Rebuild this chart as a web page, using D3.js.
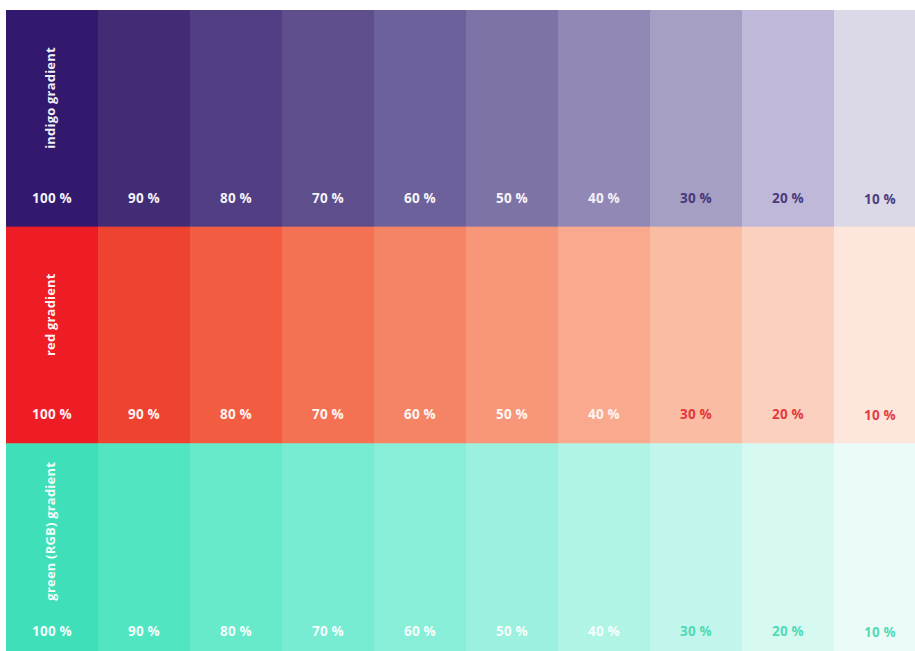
<!DOCTYPE html>
<html>
<head>
<meta charset="utf-8">
<script src="https://cdn.jsdelivr.net/npm/d3@7"></script>
<style>
  html, body { margin: 0; padding: 0; background: #ffffff; overflow: hidden; }
  svg { display: block; }
</style>
</head>
<body>
<svg id="chart" width="915" height="651"></svg>
<script>
// ---- data ----
const percents = [100, 90, 80, 70, 60, 50, 40, 30, 20, 10];
const seriesNames = ["indigo gradient", "red gradient", "green (RGB) gradient"];
const indigoColors = ["#32196d", "#422c75", "#513e84", "#5e4e8c", "#6c619a", "#7e73a7", "#9288b5", "#a69fc4", "#bfb8d8", "#dbd8e8"];
const redColors    = ["#ee1c25", "#ef4332", "#f25d42", "#f47253", "#f58465", "#f79679", "#f9aa8e", "#fbbca4", "#fcd0be", "#fde6dc"];
const greenColors  = ["#3fe0b9", "#52e5c1", "#66eac9", "#78ecd2", "#89eed8", "#9cf0de", "#b0f4e6", "#c2f6ec", "#d6f9f2", "#ebfcf8"];
const darkLabelColors = ["#3a2a70", "#e0262f", "#3fd6ae"];

const seriesColors = [indigoColors, redColors, greenColors];

// ---- layout ----
const svg = d3.select("#chart");
const left = 6, colW = 92;
const x = d3.scaleBand().domain(percents).range([left, left + colW * percents.length]).paddingInner(0).paddingOuter(0);
const y = d3.scaleBand().domain(seriesNames).range([10, 660]).paddingInner(0);

const cells = [];
seriesNames.forEach((s, si) => {
  percents.forEach((p, pi) => {
    cells.push({ series: s, si, p, pi, color: seriesColors[si][pi] });
  });
});

svg.append("g").selectAll("rect").data(cells).join("rect")
  .attr("x", d => x(d.p))
  .attr("y", d => y(d.series))
  .attr("width", x.bandwidth() + 0.5)
  .attr("height", y.bandwidth() + 0.5)
  .attr("fill", d => d.color);

// percentage labels
svg.append("g").selectAll("text").data(cells).join("text")
  .attr("x", d => x(d.p) + x.bandwidth() / 2)
  .attr("y", d => y(d.series) + y.bandwidth() - 24 + (d.p === 10 ? 1 : 0))
  .attr("text-anchor", "middle")
  .attr("font-family", "'Open Sans', sans-serif")
  .attr("font-weight", 700)
  .attr("font-size", 13.5)
  .attr("letter-spacing", 0.2)
  .attr("fill", d => d.p > 30 ? "#ffffff" : darkLabelColors[d.si])
  .attr("fill-opacity", d => d.p > 30 ? (d.p === 40 ? 0.9 : 0.95) : 0.9)
  .text(d => d.p + " %");

// series labels (vertical)
svg.append("g").selectAll("text").data(seriesNames).join("text")
  .attr("transform", d => `translate(${x(100) + 48.5},${y(d) + 88}) rotate(-90)`)
  .attr("text-anchor", "middle")
  .attr("font-family", "'Open Sans', sans-serif")
  .attr("font-weight", 700)
  .attr("font-size", 13)
  .attr("letter-spacing", 0.2)
  .attr("fill", "#ffffff")
  .attr("fill-opacity", 0.95)
  .text(d => d);
</script>
</body>
</html>
